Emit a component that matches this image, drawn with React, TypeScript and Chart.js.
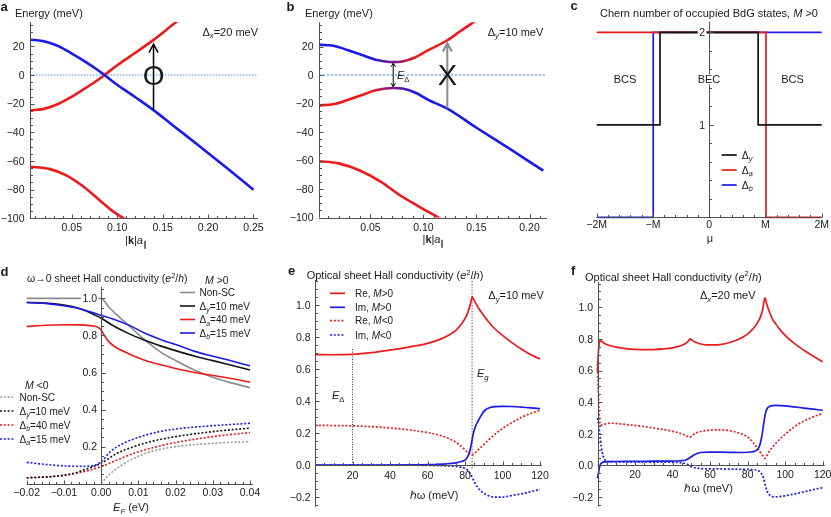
import React, { useEffect, useRef } from 'react';
import { Chart, registerables } from 'chart.js';

Chart.register(...registerables);

const FAM = '"Liberation Sans", Arial, Helvetica, sans-serif';
const RED = 'rgb(236,26,26)';
const BLUE = 'rgb(26,26,236)';
const PURPLE = 'rgb(120,24,140)';
const BLACK = '#141414';
const GRAY = '#8c8c8c';
const LGRAY = '#9a9a9a';
const AXIS = '#505050';
const TXT = '#1a1a1a';

type Pt = [number, number];

// ---------------- panel a ----------------
const aBandBlue: Pt[] = [[0.004, 24.7], [0.018, 23.8], [0.033, 20.8], [0.047, 16.2], [0.062, 10.4], [0.077, 4.2], [0.086, 0], [0.1, -6.8], [0.12, -15.5], [0.14, -24.5], [0.16, -34.5], [0.19, -49.3], [0.22, -64.5], [0.25, -80]];
const aBandRed: Pt[] = [[0.004, -24.7], [0.018, -23.8], [0.033, -20.8], [0.047, -16.2], [0.062, -10.4], [0.077, -4.2], [0.086, 0], [0.1, 6.8], [0.12, 15.5], [0.14, 24.5], [0.16, 34.5], [0.17, 39.5]];
const aLowerRed: Pt[] = [[0.004, -64], [0.025, -65.5], [0.044, -70], [0.062, -77.5], [0.08, -87], [0.095, -95], [0.107, -100], [0.127, -108]];
const aZero: Pt[] = [[0.004, 0], [0.255, 0]];
const aXTicks = [0.05, 0.1, 0.15, 0.2, 0.25];
const aXLabels = ['0.05', '0.10', '0.15', '0.20', '0.25'];
const abYTicks = [-100, -80, -60, -40, -20, 0, 20];
const abYLabels = ['\u2212100', '\u221280', '\u221260', '\u221240', '\u221220', '0', '20'];

// ---------------- panel b ----------------
const bUpper: Pt[] = [[0.0015, 21.3], [0.015, 20.5], [0.029, 17.4], [0.042, 14.0], [0.054, 10.9], [0.064, 9.5], [0.0715, 9.1], [0.08, 9.5], [0.092, 12.3], [0.1045, 17.4], [0.1225, 24.4], [0.136, 31.4], [0.149, 37.9]];
const bLower: Pt[] = [[0.0015, -21.3], [0.015, -20.5], [0.029, -17.4], [0.042, -14.0], [0.054, -10.9], [0.064, -9.5], [0.0715, -9.1], [0.08, -9.5], [0.092, -12.3], [0.1045, -17.4], [0.1225, -23.6], [0.15, -37], [0.18, -51.2], [0.213, -67.1]];
const bLowerRed: Pt[] = [[0.0015, -60.5], [0.02, -62], [0.04, -67], [0.06, -75], [0.076, -83.5], [0.095, -92], [0.114, -100], [0.133, -108]];
const bZero: Pt[] = [[0.0015, 0], [0.2165, 0]];
const bXTicks = [0.05, 0.1, 0.15, 0.2];
const bXLabels = ['0.05', '0.10', '0.15', '0.20'];

// ---------------- panel c ----------------
const cDeltaY: Pt[] = [[-2, 1], [-0.875, 1], [-0.875, 2], [0.87, 2], [0.87, 1], [2, 1]];
const cDeltaA: Pt[] = [[-2, 2], [1.01, 2], [1.01, 0], [2, 0]];
const cDeltaB: Pt[] = [[-2, 0], [-0.995, 0], [-0.995, 2], [2, 2]];
const cXTicks = [-2, -1, 0, 1, 2];
const cXLabels = ['\u22122M', '\u2212M', '0', 'M', '2M'];
const cYTicks = [1, 2];
const cYLabels = ['1', '2'];

// ---------------- panel d ----------------
const dNonScPos: Pt[] = [[-0.02, 1], [-0.01, 1], [0, 1], [0.002, 0.955], [0.004, 0.915], [0.0073, 0.856], [0.0106, 0.795], [0.0163, 0.706], [0.02, 0.665], [0.0252, 0.612], [0.03, 0.574], [0.0342, 0.548], [0.04, 0.518]];
const dDyPos: Pt[] = [[-0.02, 0.978], [-0.015, 0.975], [-0.01, 0.964], [-0.007, 0.952], [-0.004, 0.932], [-0.002, 0.913], [0, 0.893], [0.0028, 0.858], [0.0073, 0.811], [0.0115, 0.775], [0.0163, 0.741], [0.02, 0.718], [0.0252, 0.688], [0.03, 0.664], [0.0342, 0.643], [0.04, 0.614]];
const dDaPos: Pt[] = [[-0.02, 0.848], [-0.015, 0.855], [-0.01, 0.858], [-0.006, 0.857], [-0.003, 0.853], [-0.001, 0.845], [0, 0.83], [0.001, 0.795], [0.002, 0.768], [0.0037, 0.739], [0.0073, 0.703], [0.0115, 0.668], [0.0163, 0.64], [0.02, 0.622], [0.0252, 0.6], [0.03, 0.584], [0.0342, 0.57], [0.04, 0.548]];
const dDbPos: Pt[] = [[-0.02, 0.978], [-0.015, 0.973], [-0.01, 0.96], [-0.006, 0.945], [-0.003, 0.928], [0, 0.909], [0.0028, 0.892], [0.0073, 0.857], [0.0115, 0.815], [0.0163, 0.776], [0.02, 0.751], [0.0252, 0.714], [0.03, 0.688], [0.0342, 0.667], [0.04, 0.636]];
const dNonScNeg: Pt[] = [[0, 0], [0.0016, 0.038], [0.0043, 0.083], [0.0088, 0.137], [0.0133, 0.173], [0.02, 0.2], [0.03, 0.218], [0.04, 0.227]];
const dDyNeg: Pt[] = [[-0.02, 0.032], [-0.015, 0.036], [-0.01, 0.046], [-0.007, 0.058], [-0.0047, 0.074], [-0.002, 0.093], [0, 0.11], [0.0043, 0.164], [0.0088, 0.2], [0.0133, 0.227], [0.02, 0.254], [0.03, 0.281], [0.04, 0.3]];
const dDbNeg: Pt[] = [[-0.02, 0.032], [-0.015, 0.036], [-0.01, 0.045], [-0.0047, 0.065], [0, 0.092], [0.0043, 0.128], [0.0088, 0.164], [0.0133, 0.191], [0.02, 0.222], [0.03, 0.254], [0.04, 0.276]];
const dDaNeg: Pt[] = [[-0.02, 0.115], [-0.015, 0.104], [-0.01, 0.096], [-0.005, 0.094], [-0.002, 0.098], [0, 0.118], [0.0025, 0.173], [0.006, 0.218], [0.0106, 0.254], [0.0155, 0.28], [0.02, 0.295], [0.03, 0.313], [0.04, 0.326]];
const dXTicks = [-0.02, -0.01, 0, 0.01, 0.02, 0.03, 0.04];
const dXLabels = ['\u22120.02', '\u22120.01', '0.00', '0.01', '0.02', '0.03', '0.04'];
const dYTicks = [0.2, 0.4, 0.6, 0.8, 1.0];
const dYLabels = ['0.2', '0.4', '0.6', '0.8', '1.0'];

// ---------------- panel e ----------------
const eRePos: Pt[] = [[0, 0.69], [10, 0.689], [20, 0.692], [30, 0.702], [40, 0.718], [50, 0.737], [60, 0.76], [66, 0.782], [71, 0.81], [75, 0.84], [78.3, 0.885], [80.5, 0.925], [82, 0.97], [83.2, 1.02], [83.8, 1.05], [84.8, 1.03], [86, 1.005], [87.5, 0.975], [90, 0.935], [92.5, 0.895], [96, 0.85], [100, 0.81], [105, 0.765], [110, 0.725], [115, 0.69], [120, 0.662]];
const eImPos: Pt[] = [[0, 0], [40, 0.0005], [60, 0.003], [70, 0.008], [75, 0.014], [78, 0.022], [80, 0.031], [81.5, 0.055], [82.7, 0.094], [83.6, 0.145], [84.5, 0.2], [85.8, 0.248], [87.2, 0.28], [89, 0.318], [90.8, 0.344], [93, 0.358], [96, 0.365], [100, 0.367], [105, 0.366], [110, 0.362], [115, 0.357], [120, 0.353]];
const eReNeg: Pt[] = [[0, 0.248], [10, 0.247], [20, 0.245], [30, 0.24], [40, 0.232], [50, 0.22], [60, 0.203], [66, 0.188], [71, 0.167], [75, 0.143], [78, 0.117], [80, 0.095], [82, 0.073], [83.8, 0.064], [85, 0.072], [86, 0.083], [87.5, 0.1], [90, 0.128], [92.5, 0.156], [96, 0.193], [100, 0.228], [105, 0.265], [110, 0.298], [115, 0.322], [120, 0.343]];
const eImNeg: Pt[] = [[0, 0], [40, -0.0005], [60, -0.002], [70, -0.005], [75, -0.008], [78, -0.013], [80, -0.02], [81.5, -0.033], [82.7, -0.052], [84, -0.08], [85.4, -0.115], [87, -0.143], [89, -0.167], [91.5, -0.186], [94.3, -0.198], [97, -0.2], [100, -0.2], [105, -0.19], [110, -0.18], [115, -0.166], [120, -0.152]];
const eDeltaMark: Pt[] = [[20, 0], [20, 0.735]];
const eGapMark: Pt[] = [[83.8, -0.02], [83.8, 1.18]];
const efXTicks = [20, 40, 60, 80, 100, 120];
const efXLabels = ['20', '40', '60', '80', '100', '120'];
const efYTicks = [-0.2, 0, 0.2, 0.4, 0.6, 0.8, 1.0];
const efYLabels = ['\u22120.2', '0.0', '0.2', '0.4', '0.6', '0.8', '1.0'];

// ---------------- panel f ----------------
const fRePos: Pt[] = [[0, 0.59], [0.4, 0.7], [0.9, 0.77], [1.5, 0.79], [2.5, 0.782], [4, 0.77], [6, 0.76], [10, 0.748], [15, 0.739], [20, 0.734], [25, 0.732], [30, 0.733], [35, 0.737], [40, 0.744], [44, 0.755], [46.5, 0.768], [48.3, 0.785], [49.3, 0.8], [50.3, 0.793], [52, 0.78], [55, 0.768], [58, 0.763], [62, 0.762], [66, 0.766], [70, 0.776], [74, 0.792], [78, 0.815], [81, 0.842], [84, 0.88], [86.5, 0.93], [88, 0.985], [89.2, 1.06], [90.2, 1.02], [91.5, 0.975], [93, 0.93], [95, 0.895], [97, 0.862], [100, 0.822], [105, 0.77], [110, 0.728], [115, 0.69], [120, 0.655]];
const fReNeg: Pt[] = [[0, 0.64], [0.4, 0.48], [0.8, 0.34], [1.3, 0.27], [2, 0.255], [3, 0.258], [5, 0.265], [8, 0.267], [12, 0.263], [16, 0.258], [20, 0.253], [25, 0.246], [30, 0.237], [35, 0.227], [40, 0.216], [44, 0.204], [47, 0.19], [49.3, 0.178], [50.5, 0.19], [52, 0.203], [55, 0.215], [60, 0.223], [65, 0.225], [70, 0.221], [74, 0.21], [78, 0.193], [81, 0.17], [84, 0.128], [86.5, 0.088], [88, 0.062], [89.2, 0.045], [90.2, 0.06], [91.5, 0.088], [93, 0.112], [95, 0.14], [97, 0.165], [100, 0.197], [104, 0.236], [108, 0.268], [112, 0.292], [116, 0.312], [120, 0.328]];
const fImPos: Pt[] = [[0, -0.08], [0.5, -0.05], [1, -0.015], [1.5, 0.005], [2.5, 0.018], [4, 0.023], [8, 0.025], [20, 0.026], [30, 0.027], [40, 0.028], [44, 0.03], [47, 0.035], [49, 0.047], [51, 0.063], [53, 0.076], [55, 0.082], [60, 0.085], [70, 0.083], [78, 0.082], [82, 0.085], [84, 0.092], [85.5, 0.105], [86.5, 0.13], [87.5, 0.18], [88.5, 0.26], [89.5, 0.33], [90.5, 0.362], [92, 0.375], [95, 0.38], [100, 0.377], [105, 0.37], [110, 0.363], [115, 0.356], [120, 0.349]];
const fImNeg: Pt[] = [[0, 0.3], [0.6, 0.26], [1.2, 0.2], [2, 0.12], [3, 0.06], [4, 0.035], [6, 0.025], [20, 0.022], [40, 0.02], [45, 0.017], [47.5, 0.01], [49.5, -0.005], [52, -0.015], [56, -0.02], [65, -0.022], [75, -0.024], [82, -0.026], [85, -0.03], [87, -0.045], [88.5, -0.08], [89.5, -0.13], [90.5, -0.165], [92, -0.19], [94, -0.198], [97, -0.197], [100, -0.192], [105, -0.18], [110, -0.167], [115, -0.153], [120, -0.14]];

// ---------------- rich text ----------------
type Seg = { t: string; i?: boolean; b?: boolean; sub?: boolean; sup?: boolean };
const T = (t: string): Seg => ({ t });
const I = (t: string): Seg => ({ t, i: true });
const Bd = (t: string): Seg => ({ t, b: true });
const Sub = (t: string, i = false): Seg => ({ t, sub: true, i });
const Sup = (t: string): Seg => ({ t, sup: true });

function fontOf(s: Seg, size: number) {
  const fs = s.sub || s.sup ? size * 0.7 : size;
  return `${s.i ? 'italic ' : ''}${s.b ? 'bold ' : ''}${fs}px ${FAM}`;
}
function richWidth(ctx: CanvasRenderingContext2D, segs: Seg[], size: number) {
  let w = 0;
  for (const s of segs) { ctx.font = fontOf(s, size); w += ctx.measureText(s.t).width; }
  return w;
}
function drawRich(ctx: CanvasRenderingContext2D, segs: Seg[], x: number, yMid: number, size: number, align: string, bg = false) {
  const w = richWidth(ctx, segs, size);
  let cx = align === 'left' ? x : align === 'right' ? x - w : x - w / 2;
  const base = yMid + size * 0.36;
  if (bg) { ctx.fillStyle = '#fff'; ctx.fillRect(cx - 1.5, yMid - size * 0.45, w + 3, size * 0.9); }
  ctx.fillStyle = TXT; ctx.textBaseline = 'alphabetic'; ctx.textAlign = 'left';
  for (const s of segs) {
    ctx.font = fontOf(s, size);
    const dy = s.sub ? size * 0.24 : s.sup ? -size * 0.38 : 0;
    ctx.fillText(s.t, cx, base + dy);
    cx += ctx.measureText(s.t).width;
  }
}

// ---------------- panel config types ----------------
interface Axis { at: number; lo: number; hi: number; ticks: number[]; labels: string[]; minor: number; gap: number }
interface TextItem { segs: Seg[]; x: number; y: number; size: number; align?: string; data?: boolean; bg?: boolean }
interface LegItem { y: number; color: string; dash?: number[]; segs: Seg[] }
interface Legend { x1: number; x2: number; tx: number; width: number; size: number; items: LegItem[] }
interface Arrow { x: number; y1: number; y2: number; color: string; width: number; hw: number; hh: number; both?: boolean }
interface Panel {
  area: [number, number, number, number];
  xRange: [number, number]; yRange: [number, number];
  xAxis: Axis; yAxis: Axis; labelBg?: boolean;
  datasets: any[]; texts: TextItem[]; legends: Legend[]; arrows: Arrow[];
}

function lineDs(data: Pt[], color: any, width: number, extra: any = {}) {
  return {
    data: data.map(([x, y]) => ({ x, y })),
    borderColor: color, borderWidth: width, pointRadius: 0, pointHoverRadius: 0,
    fill: false, cubicInterpolationMode: 'monotone', tension: 0, ...extra,
  };
}
const DOT = [2, 1.8];
const dotDs = (data: Pt[], color: any, width: number, extra: any = {}) => lineDs(data, color, width, { borderDash: DOT, ...extra });
const straight = { cubicInterpolationMode: 'default', tension: 0 };

const bGradFrom = 0.05;
const bGradTo = 0.094;
function bandGradient(c0: string, c1: string) {
  return (ctx: any) => {
    const chart = ctx.chart;
    const xs = chart && chart.scales && chart.scales.x;
    if (!chart || !chart.chartArea || !xs) return c0;
    const g = chart.ctx.createLinearGradient(xs.getPixelForValue(bGradFrom), 0, xs.getPixelForValue(bGradTo), 0);
    g.addColorStop(0, c0); g.addColorStop(0.5, PURPLE); g.addColorStop(1, c1);
    return g;
  };
}

const TS = 10.5; // tick font
const dTitle = (s: string) => [T(s)];

const PANELS: Panel[] = [
  // a
  {
    area: [30, 22, 258, 218.3], xRange: [0.004, 0.255], yRange: [-100, 37],
    xAxis: { at: -100, lo: 0.004, hi: 0.255, ticks: aXTicks, labels: aXLabels, minor: 0.01, gap: 9 },
    yAxis: { at: 0.004, lo: -100, hi: 37, ticks: abYTicks, labels: abYLabels, minor: 5, gap: 6 },
    datasets: [
      lineDs(aBandBlue, BLUE, 2.6),
      lineDs(aBandRed, RED, 2.6),
      lineDs(aLowerRed, RED, 2.6),
      lineDs(aZero, 'rgb(70,140,235)', 1, { borderDash: [1.5, 1.5], ...straight }),
    ],
    texts: [
      { segs: [Bd('a')], x: 0.5, y: 6.5, size: 13 },
      { segs: dTitle('Energy (meV)'), x: 15, y: 13.3, size: 11 },
      { segs: [T('\u0394'), Sub('x', true), T('=20 meV')], x: 258, y: 31.7, size: 11, align: 'right' },
      { segs: [T('|'), Bd('k'), T('|'), I('a'), Sub('\u2225')], x: 136, y: 240, size: 11, align: 'center' },
      { segs: [T('O')], x: 0.14, y: 0, size: 28, align: 'center', data: true },
    ],
    legends: [],
    arrows: [{ x: 0.14, y1: -24.4, y2: 21.5, color: '#000', width: 1.5, hw: 4.5, hh: 8.5 }],
  },
  // b
  {
    area: [319, 22.3, 547, 217.5], xRange: [0.0015, 0.2165], yRange: [-100, 37],
    xAxis: { at: -100, lo: 0.0015, hi: 0.2165, ticks: bXTicks, labels: bXLabels, minor: 0.01, gap: 9 },
    yAxis: { at: 0.0015, lo: -100, hi: 37, ticks: abYTicks, labels: abYLabels, minor: 5, gap: 6 },
    datasets: [
      lineDs(bUpper, bandGradient(BLUE, RED), 2.6),
      lineDs(bLower, bandGradient(RED, BLUE), 2.6),
      lineDs(bLowerRed, RED, 2.6),
      lineDs(bZero, 'rgb(110,170,240)', 1.5, { borderDash: [2, 2], ...straight }),
    ],
    texts: [
      { segs: [Bd('b')], x: 286.5, y: 6.7, size: 13 },
      { segs: dTitle('Energy (meV)'), x: 305, y: 13.3, size: 11 },
      { segs: [T('\u0394'), Sub('y', true), T('=10 meV')], x: 543.3, y: 31.7, size: 11, align: 'right' },
      { segs: [T('|'), Bd('k'), T('|'), I('a'), Sub('\u2225')], x: 433.5, y: 239, size: 11, align: 'center' },
      { segs: [I('E'), Sub('\u0394')], x: 397, y: 75.5, size: 11 },
      { segs: [T('X')], x: 0.1225, y: 0, size: 29, align: 'center', data: true },
    ],
    legends: [],
    arrows: [
      { x: 0.1225, y1: -23.3, y2: 22.2, color: '#8a8a8a', width: 2, hw: 4.5, hh: 8 },
      { x: 0.0715, y1: -8.2, y2: 8.2, color: '#000', width: 1, hw: 2.2, hh: 3.5, both: true },
    ],
  },
  // c
  {
    area: [596.7, 21.7, 821.7, 217.3], xRange: [-2, 2], yRange: [0, 2.115], labelBg: true,
    xAxis: { at: 0, lo: -2, hi: 2, ticks: cXTicks, labels: cXLabels, minor: 0.2, gap: 6.5 },
    yAxis: { at: 0, lo: 0, hi: 2.115, ticks: cYTicks, labels: cYLabels, minor: 0.2, gap: 4.5 },
    datasets: [
      lineDs(cDeltaY, BLACK, 1.7, { ...straight, clip: false }),
      lineDs(cDeltaA, RED, 1.7, { ...straight, clip: false }),
      lineDs(cDeltaB, BLUE, 1.7, { ...straight, clip: false }),
    ],
    texts: [
      { segs: [Bd('c')], x: 570.5, y: 5.5, size: 13 },
      { segs: [T('Chern number of occupied BdG states, '), I('M'), T(' >0')], x: 600, y: 13.3, size: 11 },
      { segs: [T('BCS')], x: 625, y: 79.3, size: 11, align: 'center' },
      { segs: [T('BEC')], x: 709, y: 79.3, size: 11, align: 'center', bg: true },
      { segs: [T('BCS')], x: 792.5, y: 79.3, size: 11, align: 'center' },
      { segs: [T('\u03bc')], x: 710, y: 238, size: 11, align: 'center' },
    ],
    legends: [{
      x1: 721.7, x2: 736.7, tx: 741.7, width: 1.7, size: 10.5, items: [
        { y: 155, color: BLACK, segs: [T('\u0394'), Sub('y', true)] },
        { y: 170, color: RED, segs: [T('\u0394'), Sub('a', true)] },
        { y: 185, color: BLUE, segs: [T('\u0394'), Sub('b', true)] },
      ],
    }],
    arrows: [],
  },
  // d
  {
    area: [26.7, 286.7, 250, 483.7], xRange: [-0.02, 0.04], yRange: [0, 1.063], labelBg: true,
    xAxis: { at: 0, lo: -0.02, hi: 0.0408, ticks: dXTicks, labels: dXLabels, minor: 0.002, gap: 7.5 },
    yAxis: { at: 0, lo: 0, hi: 1.063, ticks: dYTicks, labels: dYLabels, minor: 0.05, gap: 4.5 },
    datasets: [
      lineDs(dDbPos, BLUE, 1.6, { clip: false }),
      lineDs(dDyPos, BLACK, 1.6, { clip: false }),
      lineDs(dDaPos, RED, 1.6, { clip: false }),
      lineDs(dNonScPos, GRAY, 1.6, { clip: false }),
      dotDs(dDaNeg, BLUE, 1.6, { clip: false }),
      dotDs(dDyNeg, BLACK, 1.6, { clip: false }),
      dotDs(dDbNeg, RED, 1.6, { clip: false }),
      dotDs(dNonScNeg, LGRAY, 1.6, { clip: false }),
    ],
    texts: [
      { segs: [Bd('d')], x: 0.5, y: 271.5, size: 13 },
      { segs: [T('\u03c9\u21920 sheet Hall conductivity ('), I('e'), Sup('2'), T('/'), I('h'), T(')')], x: 27, y: 278.3, size: 10.5 },
      { segs: [I('M'), T(' >0')], x: 205, y: 280, size: 10.5 },
      { segs: [I('M'), T(' <0')], x: 25, y: 385, size: 10.5 },
      { segs: [I('E'), Sub('F', true), T(' (eV)')], x: 131, y: 507, size: 11, align: 'center' },
    ],
    legends: [
      {
        x1: 180, x2: 195, tx: 199.5, width: 1.6, size: 10, items: [
          { y: 292.5, color: GRAY, segs: [T('Non-SC')] },
          { y: 306, color: BLACK, segs: [T('\u0394'), Sub('y', true), T('=10 meV')] },
          { y: 319.5, color: RED, segs: [T('\u0394'), Sub('a', true), T('=40 meV')] },
          { y: 333, color: BLUE, segs: [T('\u0394'), Sub('b', true), T('=15 meV')] },
        ],
      },
      {
        x1: 0, x2: 15, tx: 19.5, width: 1.6, size: 10, items: [
          { y: 397, color: LGRAY, dash: DOT, segs: [T('Non-SC')] },
          { y: 411, color: BLACK, dash: DOT, segs: [T('\u0394'), Sub('y', true), T('=10 meV')] },
          { y: 425, color: RED, dash: DOT, segs: [T('\u0394'), Sub('b', true), T('=40 meV')] },
          { y: 439, color: BLUE, dash: DOT, segs: [T('\u0394'), Sub('a', true), T('=15 meV')] },
        ],
      },
    ],
    arrows: [],
  },
  // e
  {
    area: [315, 280, 540, 506.7], xRange: [0, 120], yRange: [-0.26, 1.156],
    xAxis: { at: 0, lo: 0, hi: 121, ticks: efXTicks, labels: efXLabels, minor: 5, gap: 10 },
    yAxis: { at: 0, lo: -0.26, hi: 1.156, ticks: efYTicks, labels: efYLabels, minor: 0.05, gap: 5 },
    datasets: [
      lineDs(eRePos, RED, 1.7, { clip: false }),
      lineDs(eImPos, BLUE, 1.7, { clip: false }),
      dotDs(eReNeg, RED, 1.7, { clip: false }),
      dotDs(eImNeg, BLUE, 1.7, { clip: false }),
      lineDs(eDeltaMark, '#333', 1, { borderDash: [1, 1.5], ...straight, clip: false }),
      lineDs(eGapMark, '#999', 1.6, { borderDash: [1.5, 1.5], ...straight, clip: false }),
    ],
    texts: [
      { segs: [Bd('e')], x: 288, y: 270.5, size: 13 },
      { segs: [T('Optical sheet Hall conductivity ('), I('e'), Sup('2'), T('/'), I('h'), T(')')], x: 306.7, y: 275, size: 11 },
      { segs: [T('\u0394'), Sub('y', true), T('=10 meV')], x: 488.3, y: 295, size: 11 },
      { segs: [I('E'), Sub('\u0394')], x: 332, y: 395, size: 11 },
      { segs: [I('E'), Sub('g', true)], x: 477, y: 373.3, size: 11 },
      { segs: [T('\u210f\u03c9 (meV)')], x: 434, y: 495, size: 11, align: 'center' },
    ],
    legends: [{
      x1: 330, x2: 345, tx: 355, width: 1.7, size: 10, items: [
        { y: 293.3, color: RED, segs: [T('Re, '), I('M'), T('>0')] },
        { y: 307.3, color: BLUE, segs: [T('Im, '), I('M'), T('>0')] },
        { y: 320.7, color: RED, dash: DOT, segs: [T('Re, '), I('M'), T('<0')] },
        { y: 335, color: BLUE, dash: DOT, segs: [T('Im, '), I('M'), T('<0')] },
      ],
    }],
    arrows: [],
  },
  // f
  {
    area: [597.5, 282, 822.7, 506.6], xRange: [0, 120], yRange: [-0.26, 1.16],
    xAxis: { at: 0, lo: 0, hi: 121, ticks: efXTicks, labels: efXLabels, minor: 5, gap: 9 },
    yAxis: { at: 0, lo: -0.26, hi: 1.16, ticks: efYTicks, labels: efYLabels, minor: 0.05, gap: 5.5 },
    datasets: [
      lineDs(fRePos, RED, 1.7, { clip: false }),
      lineDs(fImPos, BLUE, 1.7, { clip: false }),
      dotDs(fReNeg, RED, 1.7, { clip: false }),
      dotDs(fImNeg, BLUE, 1.7, { clip: false }),
    ],
    texts: [
      { segs: [Bd('f')], x: 571, y: 270.5, size: 13 },
      { segs: [T('Optical sheet Hall conductivity ('), I('e'), Sup('2'), T('/'), I('h'), T(')')], x: 585, y: 276.7, size: 11 },
      { segs: [T('\u0394'), Sub('x', true), T('=20 meV')], x: 700, y: 295, size: 11 },
      { segs: [T('\u210f\u03c9 (meV)')], x: 708.5, y: 488.3, size: 11, align: 'center' },
    ],
    legends: [],
    arrows: [],
  },
];

function mmaPlugin(p: Panel) {
  return {
    id: 'mma',
    afterDatasetsDraw(chart: any) {
      const ctx: CanvasRenderingContext2D = chart.ctx;
      const X = (v: number) => chart.scales.x.getPixelForValue(v);
      const Y = (v: number) => chart.scales.y.getPixelForValue(v);
      ctx.save();
      ctx.setLineDash([]);
      // arrows
      for (const a of p.arrows) {
        const x = X(a.x), y1 = Y(a.y1), y2 = Y(a.y2);
        ctx.strokeStyle = a.color; ctx.lineWidth = a.width; ctx.lineCap = 'butt'; ctx.lineJoin = 'miter';
        ctx.beginPath();
        ctx.moveTo(x, y1); ctx.lineTo(x, y2);
        const dir = y2 < y1 ? 1 : -1;
        ctx.moveTo(x - a.hw, y2 + dir * a.hh); ctx.lineTo(x, y2); ctx.lineTo(x + a.hw, y2 + dir * a.hh);
        if (a.both) { ctx.moveTo(x - a.hw, y1 - dir * a.hh); ctx.lineTo(x, y1); ctx.lineTo(x + a.hw, y1 - dir * a.hh); }
        ctx.stroke();
      }
      // axes
      const xa = p.xAxis, ya = p.yAxis;
      const ay = Math.round(Y(xa.at)) + 0.5;
      const ax = Math.round(X(ya.at)) + 0.5;
      ctx.strokeStyle = AXIS; ctx.lineWidth = 1;
      ctx.beginPath();
      ctx.moveTo(X(xa.lo), ay); ctx.lineTo(X(xa.hi), ay);
      ctx.moveTo(ax, Y(ya.lo)); ctx.lineTo(ax, Y(ya.hi));
      const isMajor = (v: number, arr: number[], step: number) => arr.some((m) => Math.abs(m - v) < step * 0.05);
      for (let k = Math.ceil(xa.lo / xa.minor - 1e-6); k * xa.minor <= xa.hi + 1e-9; k++) {
        const v = k * xa.minor;
        const px = Math.round(X(v)) + 0.5;
        const len = isMajor(v, xa.ticks, xa.minor) ? 4 : 2.5;
        ctx.moveTo(px, ay); ctx.lineTo(px, ay - len);
      }
      for (let k = Math.ceil(ya.lo / ya.minor - 1e-6); k * ya.minor <= ya.hi + 1e-9; k++) {
        const v = k * ya.minor;
        const py = Math.round(Y(v)) + 0.5;
        const len = isMajor(v, ya.ticks, ya.minor) ? 4 : 2.5;
        ctx.moveTo(ax, py); ctx.lineTo(ax + len, py);
      }
      ctx.stroke();
      // tick labels
      xa.ticks.forEach((v, i) => drawRich(ctx, [T(xa.labels[i])], X(v), ay + xa.gap, TS, 'center', !!p.labelBg));
      ya.ticks.forEach((v, i) => drawRich(ctx, [T(ya.labels[i])], ax - ya.gap, Y(v), TS, 'right', !!p.labelBg));
      // texts
      for (const t of p.texts) {
        const x = t.data ? X(t.x) : t.x;
        const y = t.data ? Y(t.y) : t.y;
        drawRich(ctx, t.segs, x, y, t.size, t.align || 'left', !!t.bg);
      }
      // legends
      for (const lg of p.legends) {
        for (const it of lg.items) {
          ctx.strokeStyle = it.color; ctx.lineWidth = lg.width;
          ctx.setLineDash(it.dash || []);
          ctx.beginPath(); ctx.moveTo(lg.x1, it.y); ctx.lineTo(lg.x2, it.y); ctx.stroke();
          ctx.setLineDash([]);
          drawRich(ctx, it.segs, lg.tx, it.y, lg.size, 'left');
        }
      }
      ctx.restore();
    },
  };
}

function makeChart(canvas: HTMLCanvasElement, p: Panel) {
  return new Chart(canvas, {
    type: 'line',
    data: { datasets: p.datasets },
    options: {
      animation: false,
      responsive: false,
      devicePixelRatio: 1,
      events: [],
      layout: { padding: { left: p.area[0], top: p.area[1], right: 831 - p.area[2], bottom: 517 - p.area[3] } },
      scales: {
        x: { type: 'linear', min: p.xRange[0], max: p.xRange[1], display: false },
        y: { type: 'linear', min: p.yRange[0], max: p.yRange[1], display: false },
      },
      plugins: { legend: { display: false }, tooltip: { enabled: false } },
    },
    plugins: [mmaPlugin(p)],
  } as any);
}

export default function App() {
  const refs = useRef<(HTMLCanvasElement | null)[]>([]);
  useEffect(() => {
    const charts = PANELS.map((p, i) => makeChart(refs.current[i] as HTMLCanvasElement, p));
    return () => charts.forEach((c) => c.destroy());
  }, []);
  return (
    <div style={{ position: 'absolute', left: 0, top: 0, width: 831, height: 517, background: '#fff', overflow: 'hidden' }}>
      {PANELS.map((_, i) => (
        <canvas
          key={i}
          ref={(el) => { refs.current[i] = el; }}
          width={831}
          height={517}
          style={{ position: 'absolute', left: 0, top: 0, width: 831, height: 517 }}
        />
      ))}
    </div>
  );
}
